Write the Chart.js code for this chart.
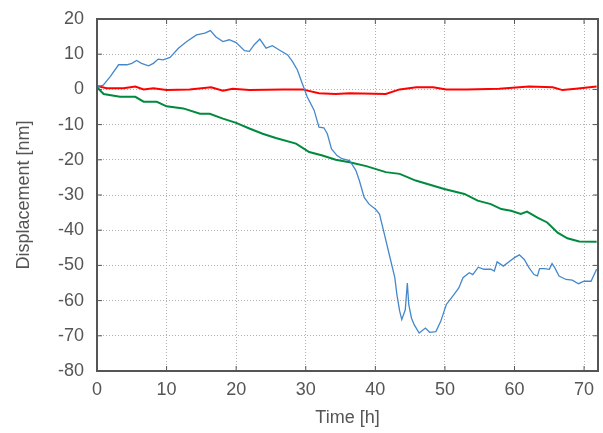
<!DOCTYPE html>
<html lang="en">
<head>
    <meta charset="UTF-8">
    <title>Displacement over time</title>
    <script src="https://cdn.jsdelivr.net/npm/chart.js"></script>
    <style>
        html, body { margin: 0; padding: 0; background: #fff; }
        #wrap { width: 603px; height: 433px; }
    </style>
</head>
<body>
    <div id="wrap"><canvas id="dispChart"></canvas></div>
    <script>
        // values
        const blueTime = [0, 0.9, 1.9, 3.1, 4.3, 5.0, 5.7, 6.4, 7.4, 8.1, 8.8, 9.5, 10.5, 11.7, 12.9, 14.3, 15.5, 16.3, 17.1, 18.1, 19.0, 20.0, 21.2, 21.9, 22.6, 23.4, 24.3, 25.2, 26.2, 27.4, 28.1, 28.8, 29.5, 30.2, 31.2, 31.9, 32.6, 33.1, 33.7, 34.5, 35.2, 36.3, 37.2, 37.7, 38.4, 39.1, 40.0, 40.6, 41.3, 42.0, 42.8, 43.1, 43.5, 43.8, 44.3, 44.6, 44.8, 45.2, 45.6, 46.3, 47.2, 47.8, 48.7, 49.4, 50.2, 51.1, 52.0, 52.6, 53.5, 54.0, 54.8, 55.6, 56.6, 57.1, 57.5, 58.4, 59.3, 60.0, 60.7, 61.4, 62.1, 62.8, 63.3, 63.6, 64.3, 65.0, 65.4, 65.8, 66.4, 67.4, 68.3, 69.2, 70.0, 71.0, 71.8];
        const blueDisp = [0.8, 1.2, 3.6, 7.0, 7.0, 7.4, 8.2, 7.4, 6.7, 7.4, 8.6, 8.4, 9.1, 11.7, 13.6, 15.5, 16.0, 16.7, 14.9, 13.6, 14.1, 13.3, 11.0, 10.8, 12.7, 14.3, 11.7, 12.4, 11.2, 9.8, 7.9, 5.5, 1.7, -2.1, -5.9, -10.7, -10.9, -12.6, -16.9, -18.8, -19.7, -20.2, -23.0, -25.9, -30.7, -32.6, -34.0, -35.4, -41.1, -46.9, -53.5, -58.3, -63.0, -65.4, -62.6, -55.0, -61.1, -65.0, -66.9, -69.2, -67.8, -69.0, -68.8, -65.9, -61.1, -58.8, -56.4, -53.5, -52.1, -52.6, -50.5, -51.1, -51.1, -51.6, -49.0, -50.2, -48.8, -47.8, -47.0, -48.3, -50.7, -52.6, -53.0, -50.9, -50.9, -51.1, -49.5, -50.7, -53.0, -54.0, -54.2, -55.2, -54.5, -54.5, -51.1];

        const redTime = [0, 1.4, 3.8, 5.5, 6.7, 8.1, 10.0, 13.3, 16.4, 18.1, 19.5, 21.9, 26.7, 29.5, 31.9, 34.3, 36.3, 41.5, 43.5, 45.9, 48.3, 50.2, 53.1, 57.8, 62.1, 65.5, 66.9, 68.8, 71.8];
        const redDisp = [1.0, 0.3, 0.3, 0.8, 0.0, 0.3, -0.2, 0.0, 0.6, -0.4, 0.2, -0.2, 0.0, 0.0, -1.1, -1.3, -1.1, -1.3, 0.0, 0.6, 0.6, 0.0, 0.0, 0.2, 0.8, 0.6, -0.2, 0.2, 0.8];

        const greenTime = [0, 0.95, 3.3, 5.5, 6.7, 8.6, 10.0, 12.4, 14.8, 16.2, 18.1, 20.0, 21.9, 23.8, 25.7, 28.6, 30.5, 32.4, 34.3, 36.3, 38.7, 41.5, 43.5, 45.8, 49.9, 52.8, 54.7, 56.6, 58.1, 59.5, 60.9, 61.8, 63.3, 64.7, 66.2, 67.6, 69.3, 71.8];
        const greenDisp = [0.6, -1.3, -2.1, -2.1, -3.5, -3.5, -4.8, -5.4, -6.9, -6.9, -8.3, -9.5, -11.1, -12.6, -13.8, -15.4, -17.8, -18.8, -20.0, -20.7, -21.8, -23.5, -24.0, -25.9, -28.3, -29.7, -31.6, -32.6, -34.0, -34.5, -35.4, -34.7, -36.4, -37.8, -40.7, -42.3, -43.2, -43.3];

        const xTicks = [0, 10, 20, 30, 40, 50, 60, 70];
        const yTicks = [20, 10, 0, -10, -20, -30, -40, -50, -60, -70, -80];

        function toPoints(xs, ys) {
            return xs.map((x, i) => ({ x: x, y: ys[i] }));
        }

        const axisColor = '#555555';
        const labelFont = { family: 'Liberation Sans, Arial, sans-serif', size: 18 };

        // frame + inward tick marks like the original plot
        const framePlugin = {
            id: 'frame',
            afterDatasetsDraw(chart) {
                const ctx = chart.ctx;
                const a = chart.chartArea;
                const xs = chart.scales.x, ys = chart.scales.y;
                ctx.save();
                ctx.strokeStyle = axisColor;
                ctx.lineWidth = 1;
                xTicks.forEach(v => {
                    const px = xs.getPixelForValue(v);
                    ctx.beginPath();
                    ctx.moveTo(px, a.bottom); ctx.lineTo(px, a.bottom - 5);
                    ctx.moveTo(px, a.top); ctx.lineTo(px, a.top + 5);
                    ctx.stroke();
                });
                yTicks.forEach(v => {
                    const py = ys.getPixelForValue(v);
                    ctx.beginPath();
                    ctx.moveTo(a.left, py); ctx.lineTo(a.left + 5, py);
                    ctx.moveTo(a.right, py); ctx.lineTo(a.right - 5, py);
                    ctx.stroke();
                });
                ctx.lineWidth = 2;
                ctx.strokeRect(a.left, a.top, a.right - a.left, a.bottom - a.top);
                ctx.restore();
            }
        };

        new Chart(document.getElementById('dispChart'), {
            type: 'line',
            data: {
                datasets: [
                    {
                        label: 'blue',
                        data: toPoints(blueTime, blueDisp),
                        borderColor: '#4488cc',
                        borderWidth: 1.3,
                        pointRadius: 0,
                        tension: 0
                    },
                    {
                        label: 'red',
                        data: toPoints(redTime, redDisp),
                        borderColor: '#ff0000',
                        borderWidth: 2,
                        pointRadius: 0,
                        tension: 0
                    },
                    {
                        label: 'green',
                        data: toPoints(greenTime, greenDisp),
                        borderColor: '#008a3e',
                        borderWidth: 2,
                        pointRadius: 0,
                        tension: 0
                    }
                ]
            },
            options: {
                responsive: true,
                maintainAspectRatio: false,
                animation: false,
                layout: { padding: { top: 19, right: 5, left: 0, bottom: 0 } },
                plugins: {
                    legend: { display: false },
                    tooltip: { enabled: false }
                },
                scales: {
                    x: {
                        type: 'linear',
                        min: 0,
                        max: 72,
                        afterBuildTicks: scale => { scale.ticks = xTicks.map(v => ({ value: v })); },
                        afterFit: scale => { scale.height = 62; scale.paddingLeft = 0; scale.paddingRight = 0; },
                        grid: { color: '#b0b0b0', lineWidth: 1, drawTicks: false },
                        border: { display: false, dash: [1, 2] },
                        ticks: { color: axisColor, font: labelFont, padding: 8, maxRotation: 0 },
                        title: { display: true, text: 'Time [h]', color: axisColor, font: labelFont, padding: { top: 0, bottom: 4 } }
                    },
                    y: {
                        min: -80,
                        max: 20,
                        afterBuildTicks: scale => { scale.ticks = yTicks.map(v => ({ value: v })); },
                        afterFit: scale => { scale.width = 97; scale.paddingTop = 0; scale.paddingBottom = 0; },
                        grid: { color: '#b0b0b0', lineWidth: 1, drawTicks: false },
                        border: { display: false, dash: [1, 2] },
                        ticks: { color: axisColor, font: labelFont, padding: 13 },
                        title: { display: true, text: 'Displacement [nm]', color: axisColor, font: labelFont, padding: { top: 13, bottom: 4 } }
                    }
                }
            },
            plugins: [framePlugin]
        });
    </script>
</body>
</html>
